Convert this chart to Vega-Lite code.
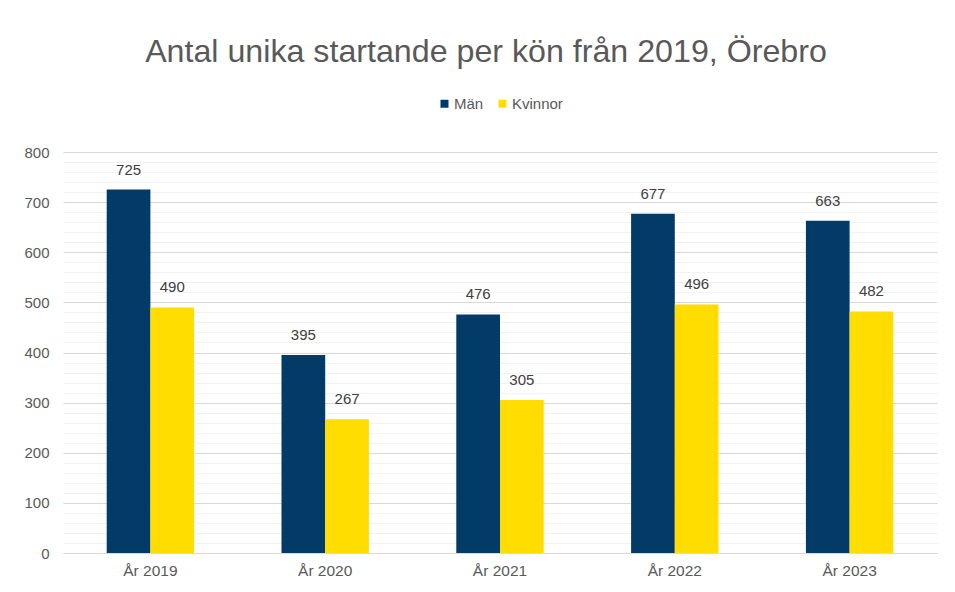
{
  "$schema": "https://vega.github.io/schema/vega-lite/v6.json",
  "width": 874,
  "height": 401,
  "autosize": {"type": "none"},
  "padding": {"left": 63, "top": 152, "right": 18, "bottom": 39},
  "background": "white",
  "title": {
    "text": "Antal unika startande per kön från 2019, Örebro",
    "font": "Liberation Sans",
    "fontSize": 32.2,
    "fontWeight": "normal",
    "color": "#595959",
    "anchor": "middle",
    "dx": -14,
    "offset": 27
  },
  "data": {
    "values": [
      {"ar": "År 2019", "kon": "Män", "antal": 725},
      {"ar": "År 2019", "kon": "Kvinnor", "antal": 490},
      {"ar": "År 2020", "kon": "Män", "antal": 395},
      {"ar": "År 2020", "kon": "Kvinnor", "antal": 267},
      {"ar": "År 2021", "kon": "Män", "antal": 476},
      {"ar": "År 2021", "kon": "Kvinnor", "antal": 305},
      {"ar": "År 2022", "kon": "Män", "antal": 677},
      {"ar": "År 2022", "kon": "Kvinnor", "antal": 496},
      {"ar": "År 2023", "kon": "Män", "antal": 663},
      {"ar": "År 2023", "kon": "Kvinnor", "antal": 482}
    ]
  },
  "encoding": {
    "x": {
      "field": "ar",
      "type": "nominal",
      "title": null,
      "scale": {"paddingInner": 0.5, "paddingOuter": 0.25},
      "axis": {
        "labelAngle": 0,
        "ticks": false,
        "labelPadding": 10,
        "labelFont": "Liberation Sans",
        "labelFontSize": 15.5,
        "labelColor": "#595959",
        "domainColor": "#d9d9d9",
        "domainWidth": 1,
        "grid": false
      }
    },
    "xOffset": {"field": "kon", "type": "nominal", "sort": ["Män", "Kvinnor"]},
    "y": {
      "field": "antal",
      "type": "quantitative",
      "title": null,
      "scale": {"domain": [0, 800], "nice": false},
      "axis": {
        "values": [0, 20, 40, 60, 80, 100, 120, 140, 160, 180, 200, 220, 240, 260, 280, 300, 320, 340, 360, 380, 400, 420, 440, 460, 480, 500, 520, 540, 560, 580, 600, 620, 640, 660, 680, 700, 720, 740, 760, 780, 800],
        "labelExpr": "datum.value % 100 === 0 ? datum.label : ''",
        "gridColor": {"condition": {"test": "datum.value % 100 === 0", "value": "#d9d9d9"}, "value": "#f2f2f2"},
        "gridWidth": 1,
        "ticks": false,
        "domain": false,
        "labelPadding": 14,
        "labelFont": "Liberation Sans",
        "labelFontSize": 15,
        "labelColor": "#595959"
      }
    }
  },
  "layer": [
    {
      "mark": {"type": "bar"},
      "encoding": {
        "color": {
          "field": "kon",
          "type": "nominal",
          "sort": ["Män", "Kvinnor"],
          "scale": {"domain": ["Män", "Kvinnor"], "range": ["#023a68", "#ffdd00"]},
          "legend": {
            "title": null,
            "orient": "top",
            "direction": "horizontal",
            "symbolType": "square",
            "symbolSize": 64,
            "symbolStrokeWidth": 0,
            "labelFont": "Liberation Sans",
            "labelFontSize": 15,
            "labelColor": "#595959",
            "labelOffset": 2,
            "columnPadding": 11,
            "offset": 40
          }
        }
      }
    },
    {
      "mark": {"type": "text", "baseline": "alphabetic", "dy": -15, "font": "Liberation Sans", "fontSize": 15, "color": "#404040"},
      "encoding": {
        "text": {"field": "antal", "type": "quantitative"}
      }
    }
  ],
  "config": {
    "view": {"stroke": null},
    "legend": {"layout": {"top": {"anchor": "middle"}}}
  }
}
